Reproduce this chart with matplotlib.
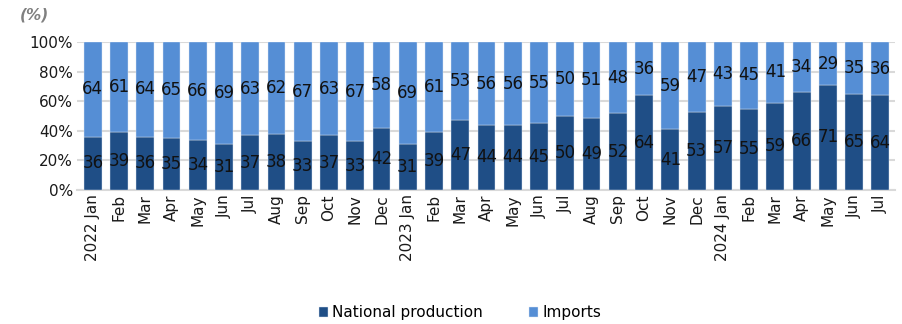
import matplotlib
matplotlib.use("Agg")
import matplotlib.pyplot as plt
import numpy as np

months = ["2022 Jan", "Feb", "Mar", "Apr", "May", "Jun", "Jul", "Aug", "Sep", "Oct", "Nov", "Dec",
          "2023 Jan", "Feb", "Mar", "Apr", "May", "Jun", "Jul", "Aug", "Sep", "Oct", "Nov", "Dec",
          "2024 Jan", "Feb", "Mar", "Apr", "May", "Jun", "Jul"]
national = [36, 39, 36, 35, 34, 31, 37, 38, 33, 37, 33, 42, 31, 39, 47, 44, 44, 45, 50, 49, 52, 64, 41, 53,
            57, 55, 59, 66, 71, 65, 64]
imports = [64, 61, 64, 65, 66, 69, 63, 62, 67, 63, 67, 58, 69, 61, 53, 56, 56, 55, 50, 51, 48, 36, 59, 47,
           43, 45, 41, 34, 29, 35, 36]

dark = "#1F4E86"
light = "#558ED5"

plt.rcParams['font.family'] = ['DejaVu Sans']
fig = plt.figure(figsize=(9.02, 3.24), dpi=100)
ax = fig.add_axes([0.0854, 0.4136, 0.9066, 0.4564])

x = np.arange(len(months))
w = 0.68
b1 = ax.bar(x, national, w, color=dark, edgecolor="#DDE6F2", linewidth=0.3, label="National production", zorder=3)
b2 = ax.bar(x, imports, w, bottom=national, color=light, edgecolor="#DDE6F2", linewidth=0.3, label="Imports", zorder=3)
ax.bar_label(b1, labels=[str(v) for v in national], label_type="center", fontsize=12, color="#111111")
ax.bar_label(b2, labels=[str(v) for v in imports], label_type="center", fontsize=12, color="#111111")

ax.set_ylim(0, 100)
ax.set_xlim(-0.6, len(months) - 0.45)
ax.set_yticks(range(0, 101, 20))
ax.set_yticklabels([f"{v}%" for v in range(0, 101, 20)], fontsize=11, color="#1a1a1a")
ax.set_xticks(x)
ax.set_xticklabels(months, rotation=90, fontsize=11, color="#1a1a1a")
ax.tick_params(axis="both", length=0, pad=3)
ax.yaxis.grid(True, color="#D9D9D9", linewidth=1.5, zorder=0)
for s in ["top", "right", "left"]:
    ax.spines[s].set_visible(False)
ax.spines["bottom"].set_color("#D9D9D9")
ax.spines["bottom"].set_linewidth(1.5)

fig.text(0.022, 0.955, "(%)", fontsize=11, fontstyle="italic", fontweight="bold", color="#808080", va="center")

fig.legend(handles=[b1, b2], loc="center", bbox_to_anchor=(0.51, 0.034), ncol=2, frameon=False,
           fontsize=11, handlelength=0.6, handleheight=0.6, columnspacing=3, handletextpad=0.3)

fig.savefig("out.png", dpi=100)
